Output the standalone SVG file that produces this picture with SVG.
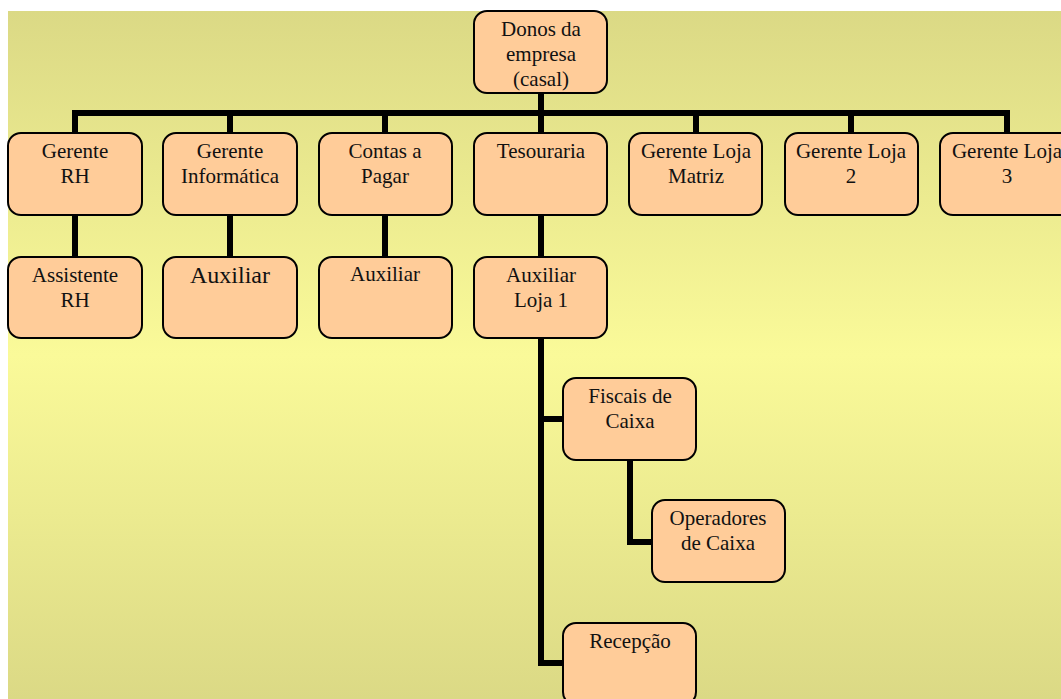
<svg xmlns="http://www.w3.org/2000/svg" width="1061" height="699" viewBox="0 0 1061 699">
  <defs>
    <linearGradient id="bg" x1="0" y1="0" x2="0" y2="1">
      <stop offset="0" stop-color="#DBD985"/>
      <stop offset="0.5" stop-color="#FAFA99"/>
      <stop offset="1" stop-color="#DBD985"/>
    </linearGradient>
    <style>
      .box { fill: #FFCC99; stroke: #000; stroke-width: 2; }
      .lbl { font-family: "Liberation Serif", "Times New Roman", serif; font-size: 21px; fill: #111; text-anchor: middle; }
      .big { font-size: 24px; }
      .wire { fill: none; stroke: #000; stroke-width: 6; stroke-linejoin: miter; stroke-linecap: butt; }
    </style>
  </defs>

  <rect x="0" y="0" width="1061" height="699" fill="#FFFFFF"/>
  <rect x="8" y="11" width="1053" height="688" fill="url(#bg)"/>

  <!-- connectors -->
  <g id="connectors">
    <path class="wire" d="M541 93 V113"/>
    <path class="wire" d="M75 133 V113 H1007 V133"/>
    <path class="wire" d="M230 113 V133"/>
    <path class="wire" d="M385 113 V133"/>
    <path class="wire" d="M541 113 V133"/>
    <path class="wire" d="M696 113 V133"/>
    <path class="wire" d="M851 113 V133"/>
    <path class="wire" d="M75 215 V257"/>
    <path class="wire" d="M230 215 V257"/>
    <path class="wire" d="M385 215 V257"/>
    <path class="wire" d="M541 215 V257"/>
    <path class="wire" d="M541 338 V663 H563"/>
    <path class="wire" d="M541 419 H563"/>
    <path class="wire" d="M630 460 V542 H652"/>
  </g>

  <g id="donos">
    <rect class="box" x="474" y="11" width="133" height="82" rx="13"/>
    <text class="lbl" x="541" y="36">Donos da</text>
    <text class="lbl" x="541" y="61">empresa</text>
    <text class="lbl" x="541" y="86">(casal)</text>
  </g>

  <g id="gerente-rh">
    <rect class="box" x="8" y="133" width="134" height="82" rx="13"/>
    <text class="lbl" x="75" y="158">Gerente</text>
    <text class="lbl" x="75" y="183">RH</text>
  </g>

  <g id="gerente-informatica">
    <rect class="box" x="163" y="133" width="134" height="82" rx="13"/>
    <text class="lbl" x="230" y="158">Gerente</text>
    <text class="lbl" x="230" y="183">Informática</text>
  </g>

  <g id="contas-a-pagar">
    <rect class="box" x="319" y="133" width="133" height="82" rx="13"/>
    <text class="lbl" x="385" y="158">Contas a</text>
    <text class="lbl" x="385" y="183">Pagar</text>
  </g>

  <g id="tesouraria">
    <rect class="box" x="474" y="133" width="133" height="82" rx="13"/>
    <text class="lbl" x="541" y="158">Tesouraria</text>
  </g>

  <g id="gerente-loja-matriz">
    <rect class="box" x="629" y="133" width="133" height="82" rx="13"/>
    <text class="lbl" x="696" y="158">Gerente Loja</text>
    <text class="lbl" x="696" y="183">Matriz</text>
  </g>

  <g id="gerente-loja-2">
    <rect class="box" x="785" y="133" width="133" height="82" rx="13"/>
    <text class="lbl" x="851" y="158">Gerente Loja</text>
    <text class="lbl" x="851" y="183">2</text>
  </g>

  <g id="gerente-loja-3">
    <rect class="box" x="940" y="133" width="133" height="82" rx="13"/>
    <text class="lbl" x="1007" y="158">Gerente Loja</text>
    <text class="lbl" x="1007" y="183">3</text>
  </g>

  <g id="assistente-rh">
    <rect class="box" x="8" y="257" width="134" height="81" rx="13"/>
    <text class="lbl" x="75" y="282">Assistente</text>
    <text class="lbl" x="75" y="307">RH</text>
  </g>

  <g id="auxiliar-informatica">
    <rect class="box" x="163" y="257" width="134" height="81" rx="13"/>
    <text class="lbl big" x="230" y="283">Auxiliar</text>
  </g>

  <g id="auxiliar-contas">
    <rect class="box" x="319" y="257" width="133" height="81" rx="13"/>
    <text class="lbl" x="385" y="281">Auxiliar</text>
  </g>

  <g id="auxiliar-loja-1">
    <rect class="box" x="474" y="257" width="133" height="81" rx="13"/>
    <text class="lbl" x="541" y="282">Auxiliar</text>
    <text class="lbl" x="541" y="307">Loja 1</text>
  </g>

  <g id="fiscais-de-caixa">
    <rect class="box" x="563" y="378" width="133" height="82" rx="13"/>
    <text class="lbl" x="630" y="403">Fiscais de</text>
    <text class="lbl" x="630" y="428">Caixa</text>
  </g>

  <g id="operadores-de-caixa">
    <rect class="box" x="652" y="500" width="133" height="82" rx="13"/>
    <text class="lbl" x="718" y="525">Operadores</text>
    <text class="lbl" x="718" y="550">de Caixa</text>
  </g>

  <g id="recepcao">
    <rect class="box" x="563" y="623" width="133" height="82" rx="13"/>
    <text class="lbl" x="630" y="648">Recepção</text>
  </g>
</svg>
